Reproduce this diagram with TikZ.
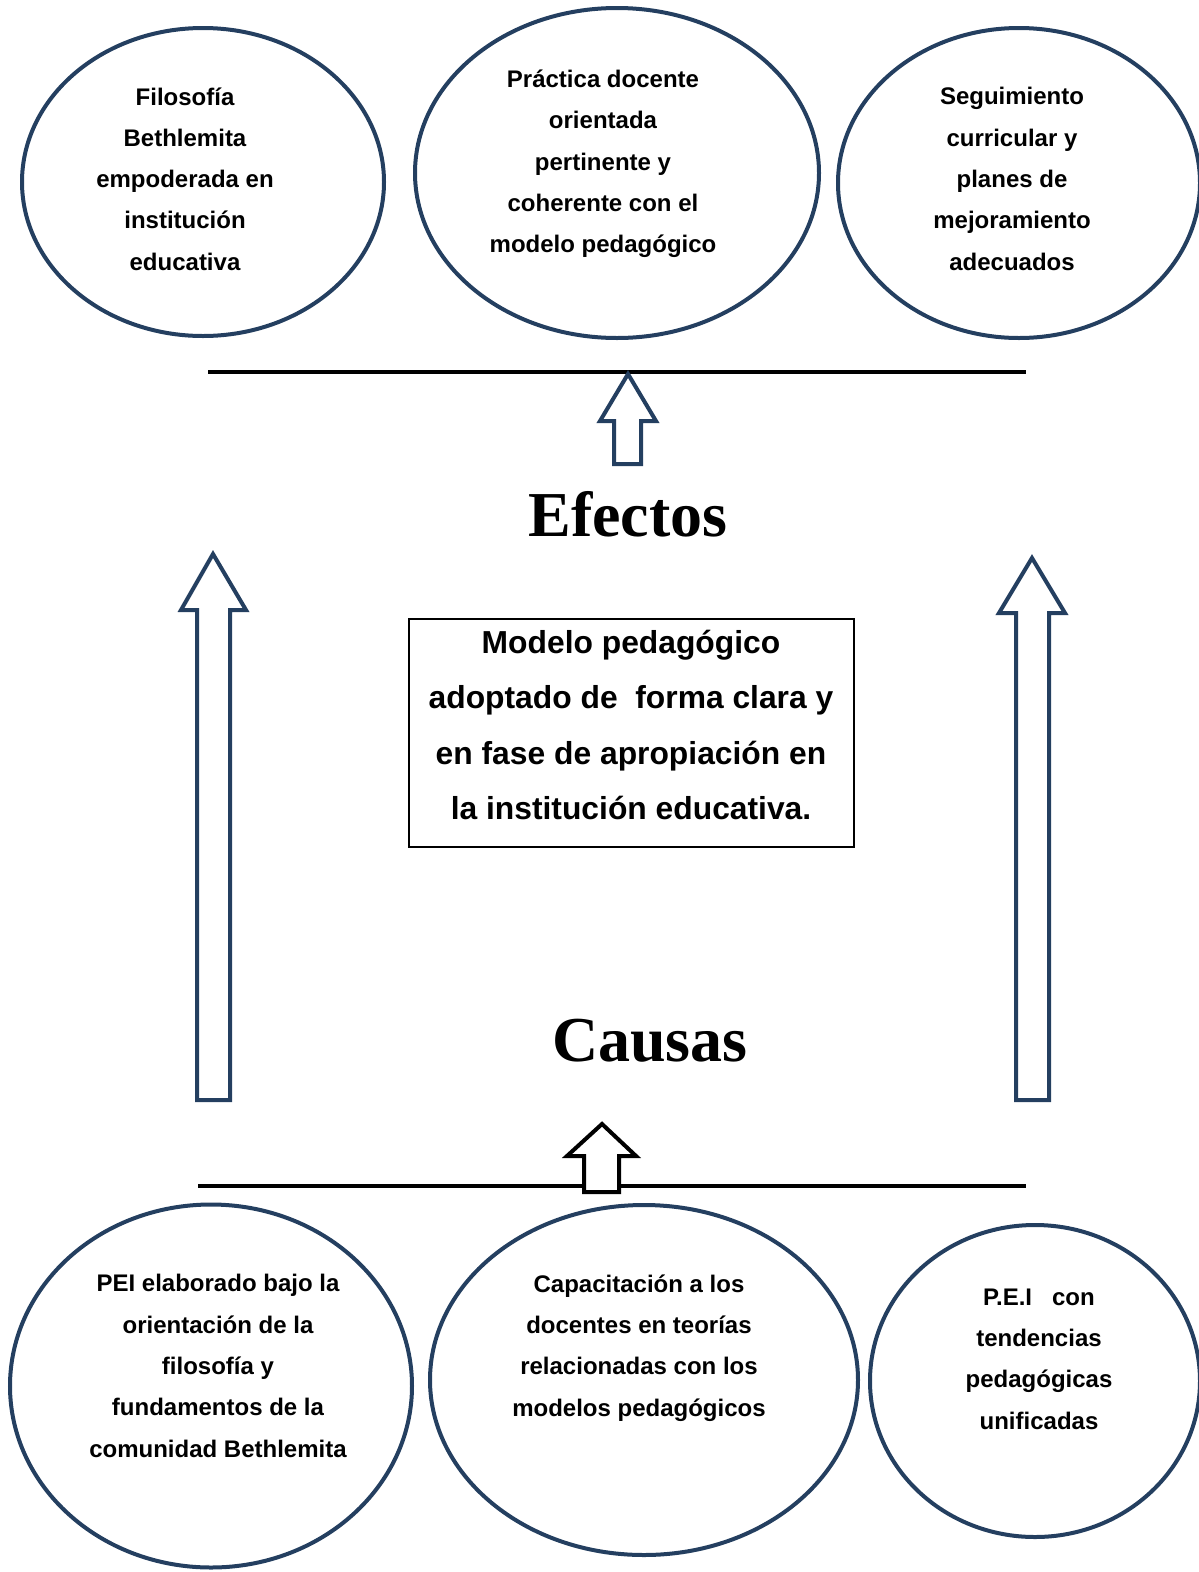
\documentclass[tikz,border=0pt]{standalone}
\usepackage{fontspec}
\setmainfont{Liberation Sans}
\newfontfamily\serifbold{Liberation Serif}
\usetikzlibrary{shapes.geometric}
\definecolor{navy}{RGB}{36,63,96}
\tikzset{
  oval/.style={draw=navy, line width=4pt, ellipse, inner sep=0pt},
  otext/.style={align=center, font=\fontsize{24}{41.3}\selectfont\bfseries},
  btext/.style={align=center, font=\fontsize{31.8}{55.3}\selectfont\bfseries},
  title/.style={font=\fontsize{64}{72}\selectfont\serifbold\bfseries},
  bar/.style={draw=black, line width=4pt},
  blockarrow/.style={line width=4pt, line join=miter, fill=white},
}
\begin{document}
\begin{tikzpicture}[x=1pt,y=-1pt]
\useasboundingbox (0,0) rectangle (1199,1572);
\clip (0,0) rectangle (1199,1572);

% top ellipses
\node[oval, minimum width=362pt, minimum height=308pt] (e1) at (203,182) {};
\node[oval, minimum width=404pt, minimum height=330pt] (e2) at (617,173) {};
\node[oval, minimum width=362pt, minimum height=310pt] (e3) at (1019,183) {};
\node[otext] (t1) at (185,179) {Filosofía\\Bethlemita\\empoderada en\\institución\\educativa};
\node[otext] (t2) at (603,164) {Práctica docente\\orientada\\pertinente y\\coherente con el\\modelo pedagógico};
\node[otext] (t3) at (1012,179) {Seguimiento\\curricular y\\planes de\\mejoramiento\\adecuados};

% bottom ellipses
\node[oval, minimum width=402pt, minimum height=363pt] (e4) at (211,1386) {};
\node[oval, minimum width=428pt, minimum height=350pt] (e5) at (644,1380) {};
\node[oval, minimum width=330pt, minimum height=312pt] (e6) at (1035,1381) {};
\node[otext] (t4) at (218,1366) {PEI elaborado bajo la\\orientación de la\\filosofía y\\fundamentos de la\\comunidad Bethlemita};
\node[otext] (t5) at (639,1348) {Capacitación a los\\docentes en teorías\\relacionadas con los\\modelos pedagógicos};
\node[otext] (t6) at (1039,1359) {P.E.I\ \ \ con\\tendencias\\pedagógicas\\unificadas};

% horizontal bars
\coordinate (l1a) at (208,372); \coordinate (l1b) at (1026,372);
\coordinate (l2a) at (198,1186); \coordinate (l2b) at (1026,1186);
\draw[bar] (l1a) -- (l1b);
\draw[bar] (l2a) -- (l2b);

% titles
\node[title] (ef) at (628,514) {Efectos};
\node[title] (ca) at (650,1041) {Causas};

% central box
\node[draw=black, line width=1.5pt, minimum width=445pt, minimum height=228pt] (box) at (631.5,733) {};
\node[btext] (bt) at (631,725) {Modelo pedagógico\\adoptado de\ \ forma clara y\\en fase de apropiación en\\la institución educativa.};

% block arrows
\draw[blockarrow, draw=navy] (628,374) -- (656,421) -- (641,421) -- (641,464) -- (614,464) -- (614,421) -- (600,421) -- cycle;
\draw[blockarrow, draw=black] (602,1124) -- (636,1156) -- (619,1156) -- (619,1192) -- (584,1192) -- (584,1156) -- (567,1156) -- cycle;
\draw[blockarrow, draw=navy] (213,554) -- (246,610) -- (230,610) -- (230,1100) -- (197,1100) -- (197,610) -- (181,610) -- cycle;
\draw[blockarrow, draw=navy] (1032,558) -- (1065,613) -- (1049,613) -- (1049,1100) -- (1016,1100) -- (1016,613) -- (999,613) -- cycle;
\end{tikzpicture}
\end{document}
